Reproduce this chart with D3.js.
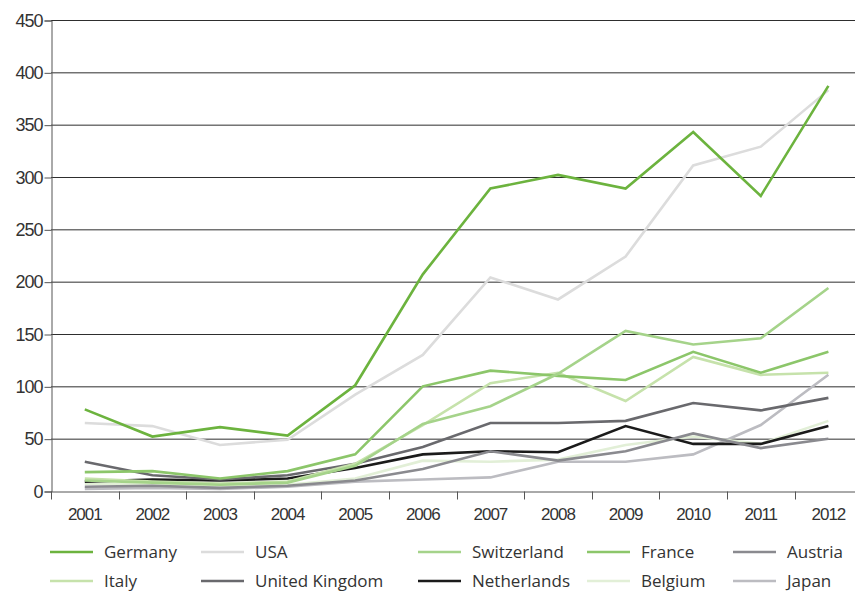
<!DOCTYPE html>
<html>
<head>
<meta charset="utf-8">
<script src="https://cdn.jsdelivr.net/npm/d3@7"></script>
<style>
  body { margin: 0; background: #fff; }
  svg { display: block; font-family: "Open Sans", "DejaVu Sans", sans-serif; }
</style>
</head>
<body>
<div id="chart"></div>
<script>
// years along the x axis
const years = [2001, 2002, 2003, 2004, 2005, 2006, 2007, 2008, 2009, 2010, 2011, 2012];
const yTicks = [0, 50, 100, 150, 200, 250, 300, 350, 400, 450];

// series
const germany     = [78, 52, 61, 53, 101, 207, 289, 302, 289, 343, 282, 387];
const usa         = [65, 62, 44, 49, 92, 130, 204, 183, 224, 311, 329, 383];
const switzerland = [10, 8, 6, 8, 24, 64, 81, 112, 153, 140, 146, 194];
const france      = [18, 19, 12, 19, 35, 100, 115, 110, 106, 133, 113, 133];
const austria     = [4, 5, 3, 5, 10, 21, 38, 29, 38, 55, 41, 50];
const italy       = [12, 9, 7, 9, 26, 63, 103, 113, 86, 128, 111, 113];
const uk          = [28, 15, 11, 15, 26, 42, 65, 65, 67, 84, 77, 89];
const netherlands = [9, 11, 10, 12, 22, 35, 38, 37, 62, 45, 45, 62];
const belgium     = [7, 6, 5, 6, 12, 29, 28, 30, 44, 52, 45, 67];
const japan       = [2, 3, 2, 4, 9, 11, 13, 28, 28, 35, 63, 111];

const names  = ["Germany", "USA", "Switzerland", "France", "Austria",
                "Italy", "United Kingdom", "Netherlands", "Belgium", "Japan"];
const values = [germany, usa, switzerland, france, austria,
                italy, uk, netherlands, belgium, japan];
const colors = ["#6cb33e", "#dcdcdc", "#a5d38a", "#8cc66a", "#8a8a8f",
                "#c6e2ab", "#69696d", "#1b1b1b", "#e2efd7", "#bcbcc1"];

const series = names.map((n, i) => ({ name: n, values: values[i], color: colors[i] }));

const width = 855, height = 591;
const plotLeft = 51, plotTop = 20, plotBottom = 491;

const svg = d3.select("#chart").append("svg")
    .attr("width", width)
    .attr("height", height);

const x = d3.scaleBand()
    .domain(years)
    .range([plotLeft, plotLeft + 12 * 67.6]);

const y = d3.scaleLinear()
    .domain([0, 450])
    .range([plotBottom, plotTop]);

// gridlines
svg.append("g")
    .selectAll("line")
    .data(yTicks.slice(1))
    .enter()
    .append("line")
    .attr("x1", plotLeft)
    .attr("x2", width)
    .attr("y1", d => y(d) + 0.5)
    .attr("y2", d => y(d) + 0.5)
    .attr("stroke", "#2e2e2e")
    .attr("stroke-width", 1);

// y axis
const yAxis = svg.append("g")
    .attr("transform", `translate(${plotLeft + 0.5},0.5)`)
    .call(d3.axisLeft(y).tickValues(yTicks).tickSize(7).tickPadding(2));
yAxis.select(".domain").attr("stroke", "#555");
yAxis.selectAll(".tick line").attr("stroke", "#555");
yAxis.selectAll("text")
    .style("font-size", "18px")
    .style("letter-spacing", "-1px")
    .attr("fill", "#333");

// x axis, ticks on band edges
const xAxis = svg.append("g")
    .attr("transform", `translate(0,${plotBottom + 0.5})`)
    .call(d3.axisBottom(x).tickSize(0).tickPadding(16));
xAxis.select(".domain").attr("stroke", "#555");
xAxis.selectAll("text")
    .style("font-size", "17px")
    .style("letter-spacing", "-1px")
    .attr("fill", "#333");
xAxis.selectAll(".edge")
    .data(years)
    .enter()
    .append("line")
    .attr("class", "edge")
    .attr("x1", d => Math.round(x(d)) + 0.5)
    .attr("x2", d => Math.round(x(d)) + 0.5)
    .attr("y1", 0)
    .attr("y2", 8)
    .attr("stroke", "#555");

// lines
const line = d3.line()
    .x((d, i) => x(years[i]) + x.bandwidth() / 2)
    .y(d => y(d));

svg.append("g")
    .selectAll("path")
    .data(series.slice().reverse())
    .enter()
    .append("path")
    .attr("d", d => line(d.values))
    .attr("fill", "none")
    .attr("stroke", d => d.color)
    .attr("stroke-width", 2.6)
    .attr("stroke-linejoin", "miter");

// legend
const colX = [50, 201, 418, 587, 733];
const rowY = [552, 581];
const legend = svg.append("g")
    .selectAll("g")
    .data(series)
    .enter()
    .append("g")
    .attr("transform", (d, i) => `translate(${colX[i % 5]},${rowY[Math.floor(i / 5)]})`);

legend.append("line")
    .attr("x1", 0)
    .attr("x2", 43)
    .attr("stroke", d => d.color)
    .attr("stroke-width", 2.6);

legend.append("text")
    .attr("x", 54)
    .attr("dy", "0.35em")
    .text(d => d.name)
    .style("font-size", "17px")
    .attr("fill", "#333");
</script>
</body>
</html>
